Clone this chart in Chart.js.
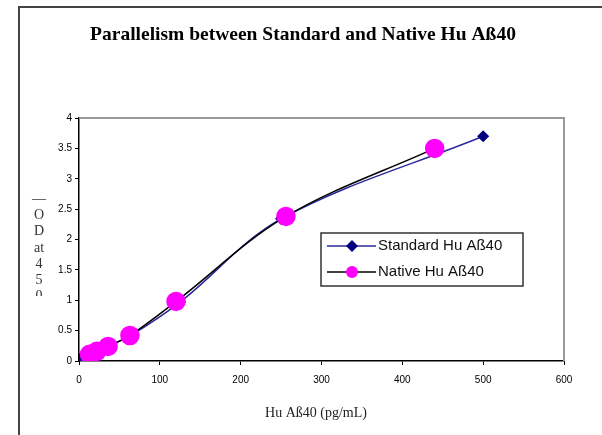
<!DOCTYPE html>
<html>
<head>
<meta charset="utf-8">
<script src="https://cdn.jsdelivr.net/npm/chart.js@4.4.0/dist/chart.umd.min.js"></script>
<style>
  html, body { margin: 0; padding: 0; background: #fff; }
  #wrap { position: relative; width: 602px; height: 435px; }
  #frame { position: absolute; left: 18px; top: 6px; width: 600px; height: 440px;
           border-left: 2px solid #444; border-top: 2px solid #444; }
</style>
</head>
<body>
<div id="wrap">
  <div id="frame"></div>
  <canvas id="line-chart" width="602" height="435"></canvas>
</div>
<script>
// standard curve (diamonds) and native sample dilutions (circles)
var stdConc = [3.9, 7.8, 15.6, 31.25, 62.5, 125, 250, 500];
var stdOD   = [0.07, 0.09, 0.13, 0.22, 0.41, 0.97, 2.34, 3.7];
var natConc = [13, 22, 36, 63, 120, 256, 440];
var natOD   = [0.11, 0.16, 0.24, 0.42, 0.98, 2.38, 3.5];
var xTicks = [0, 100, 200, 300, 400, 500, 600];
var yTicks = [0, 0.5, 1, 1.5, 2, 2.5, 3, 3.5, 4];
var yTitleChars = ['\u2014', 'O', 'D', 'at', '4', '5', '0'];

var chartTitle = 'Parallelism between Standard and Native Hu A\u00df40';
var xTitle = 'Hu A\u00df40 (pg/mL)';
var seriesNames = ['Standard Hu A\u00df40', 'Native Hu A\u00df40'];

function pts(xs, ys) {
  return xs.map(function(x, i) { return {x: x, y: ys[i]}; });
}

var extras = {
  id: 'extras',
  beforeDatasetsDraw: function(chart) {
    var ctx = chart.ctx, a = chart.chartArea;
    ctx.save();
    ctx.strokeStyle = '#999';
    ctx.lineWidth = 2;
    ctx.beginPath();
    ctx.moveTo(a.left, a.top);
    ctx.lineTo(a.right, a.top);
    ctx.lineTo(a.right, a.bottom);
    ctx.stroke();
    ctx.restore();
  },
  afterDraw: function(chart) {
    var ctx = chart.ctx;
    ctx.save();
    // title
    ctx.fillStyle = '#000';
    ctx.textAlign = 'center';
    ctx.textBaseline = 'middle';
    ctx.font = 'bold 19.5px "Liberation Serif"';
    ctx.fillText(chartTitle, 303, 35);
    // x title
    ctx.font = '14px "Liberation Serif"';
    ctx.fillStyle = '#222';
    ctx.fillText(xTitle, 316, 413);
    // y title, stacked and clipped
    ctx.beginPath();
    ctx.rect(20, 180, 50, 116);
    ctx.clip();
    ctx.font = '14px "Liberation Serif"';
    ctx.fillStyle = '#333';
    yTitleChars.forEach(function(c, i) {
      ctx.fillText(c, 39, 199 + i * 16.3);
    });
    ctx.restore();

    // legend box
    var ds = chart.data.datasets;
    ctx.save();
    ctx.fillStyle = '#fff';
    ctx.strokeStyle = '#333';
    ctx.lineWidth = 1.5;
    ctx.fillRect(321, 233, 202, 53);
    ctx.strokeRect(321, 233, 202, 53);
    var rows = [246, 272];
    ds.forEach(function(d, i) {
      var y = rows[i];
      ctx.strokeStyle = d.borderColor;
      ctx.lineWidth = 1.5;
      ctx.beginPath();
      ctx.moveTo(327, y);
      ctx.lineTo(376, y);
      ctx.stroke();
      ctx.fillStyle = d.pointBackgroundColor;
      ctx.beginPath();
      if (d.pointStyle === 'rectRot') {
        ctx.moveTo(352, y - 6);
        ctx.lineTo(358, y);
        ctx.lineTo(352, y + 6);
        ctx.lineTo(346, y);
        ctx.closePath();
      } else {
        ctx.arc(352, y, 6, 0, Math.PI * 2);
      }
      ctx.fill();
      ctx.fillStyle = '#111';
      ctx.font = '15px "Liberation Sans"';
      ctx.textAlign = 'left';
      ctx.textBaseline = 'middle';
      ctx.fillText(d.label, 378, y);
    });
    ctx.restore();
  }
};

new Chart(document.getElementById('line-chart'), {
  type: 'scatter',
  data: {
    datasets: [{
      label: seriesNames[0],
      data: pts(stdConc, stdOD),
      showLine: true,
      borderColor: '#2a2a9a',
      borderWidth: 1.5,
      pointStyle: 'rectRot',
      pointRadius: 5,
      pointBackgroundColor: '#000080',
      pointBorderColor: '#000080',
      tension: 0.35,
      order: 1
    }, {
      label: seriesNames[1],
      data: pts(natConc, natOD),
      showLine: true,
      borderColor: '#000',
      borderWidth: 1.5,
      pointStyle: 'circle',
      pointRadius: 9,
      pointBackgroundColor: '#ff00ff',
      pointBorderColor: '#ff00ff',
      tension: 0.35,
      order: 0
    }]
  },
  options: {
    responsive: false,
    animation: false,
    layout: { padding: { left: 0, top: 118, right: 38, bottom: 0 } },
    plugins: {
      legend: { display: false },
      title: { display: false },
      tooltip: { enabled: false }
    },
    scales: {
      x: {
        type: 'linear',
        min: 0, max: 600,
        afterBuildTicks: function(s) { s.ticks = xTicks.map(function(v) { return {value: v}; }); },
        afterFit: function(s) { s.height = 74; },
        grid: { drawOnChartArea: false, drawTicks: true, tickLength: 4, color: '#000' },
        border: { color: '#000', width: 1.5 },
        ticks: { color: '#000', font: { family: 'Liberation Sans', size: 10 }, padding: 9, maxRotation: 0,
                 callback: function(v) { return String(v); } }
      },
      y: {
        type: 'linear',
        min: 0, max: 4,
        afterBuildTicks: function(s) { s.ticks = yTicks.map(function(v) { return {value: v}; }); },
        afterFit: function(s) { s.width = 79; },
        grid: { drawOnChartArea: false, drawTicks: true, tickLength: 4, color: '#000' },
        border: { color: '#000', width: 1.5 },
        ticks: { color: '#000', font: { family: 'Liberation Sans', size: 10 }, padding: 3,
                 callback: function(v) { return String(v); } }
      }
    }
  },
  plugins: [extras]
});
</script>
</body>
</html>
